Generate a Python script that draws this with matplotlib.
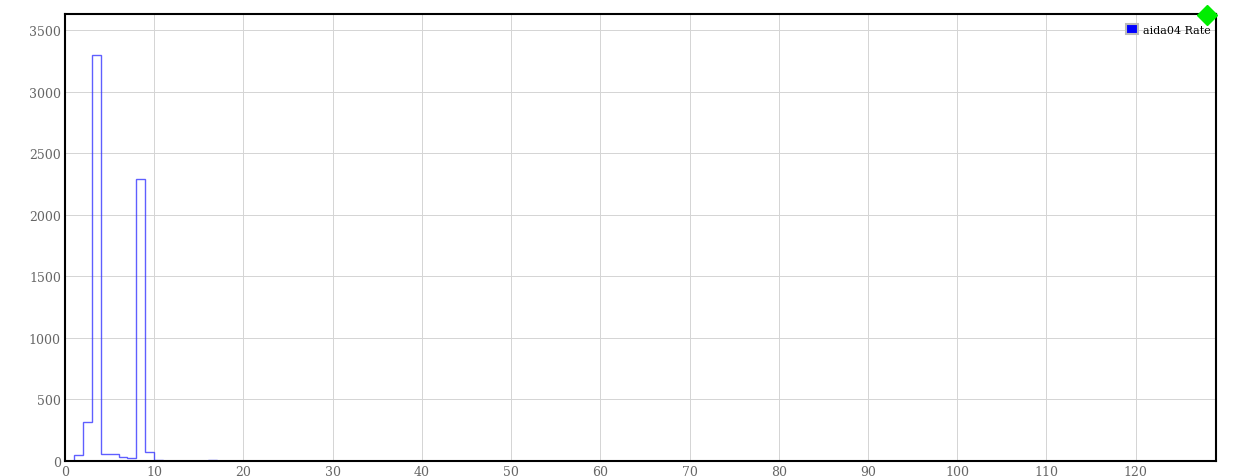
#!/usr/bin/env python3
"""Histogram of aida04 rate per channel."""

import matplotlib

matplotlib.use("Agg")
import matplotlib.pyplot as plt
import numpy as np
from matplotlib.patches import Patch

# rate per unit-width bin, starting at bin 0
rates_head = [0, 45, 317, 3300, 54, 60, 36, 25, 2290, 70, 11, 2, 1, 1, 1, 1, 6, 1, 1, 1]
n_bins = 129
rates = np.array(rates_head + [0] * (n_bins - len(rates_head)), dtype=float)
edges = np.arange(n_bins + 1)

x_ticks = list(range(0, 121, 10))
y_ticks = list(range(0, 3501, 500))
series_label = "aida04 Rate"

plt.rcParams["font.family"] = "DejaVu Serif"

fig = plt.figure(figsize=(12.53, 4.77), dpi=100)
axis = fig.add_axes([65 / 1253, 15 / 477, 1151 / 1253, 447 / 477])

axis.stairs(rates, edges, color="#2a2aff", alpha=0.75, linewidth=1.0)

axis.set_xlim(0, n_bins)
axis.set_ylim(0, max(rates) * 1.1)
axis.set_xticks(x_ticks)
axis.set_yticks(y_ticks)
axis.tick_params(length=0, labelsize=9, labelcolor="#666666", pad=3)
axis.grid(True, color="#d4d4d4", linewidth=0.7)
axis.set_axisbelow(True)
for spine in axis.spines.values():
    spine.set_linewidth(1.5)
    spine.set_color("black")

handle = Patch(facecolor="blue", edgecolor="#bbbbbb", linewidth=1.5)
axis.legend(
    [handle],
    [series_label],
    loc="upper right",
    bbox_to_anchor=(1.0, 0.99),
    frameon=False,
    fontsize=8,
    handlelength=1.1,
    handleheight=1.0,
    handletextpad=0.4,
    borderaxespad=0.3,
    borderpad=0.2,
)

axis.plot([0.992], [0.997], marker="D", markersize=10, color="#00ee00",
          transform=axis.transAxes, clip_on=False, zorder=10)

fig.savefig("out.png", dpi=100)
plt.close(fig)
